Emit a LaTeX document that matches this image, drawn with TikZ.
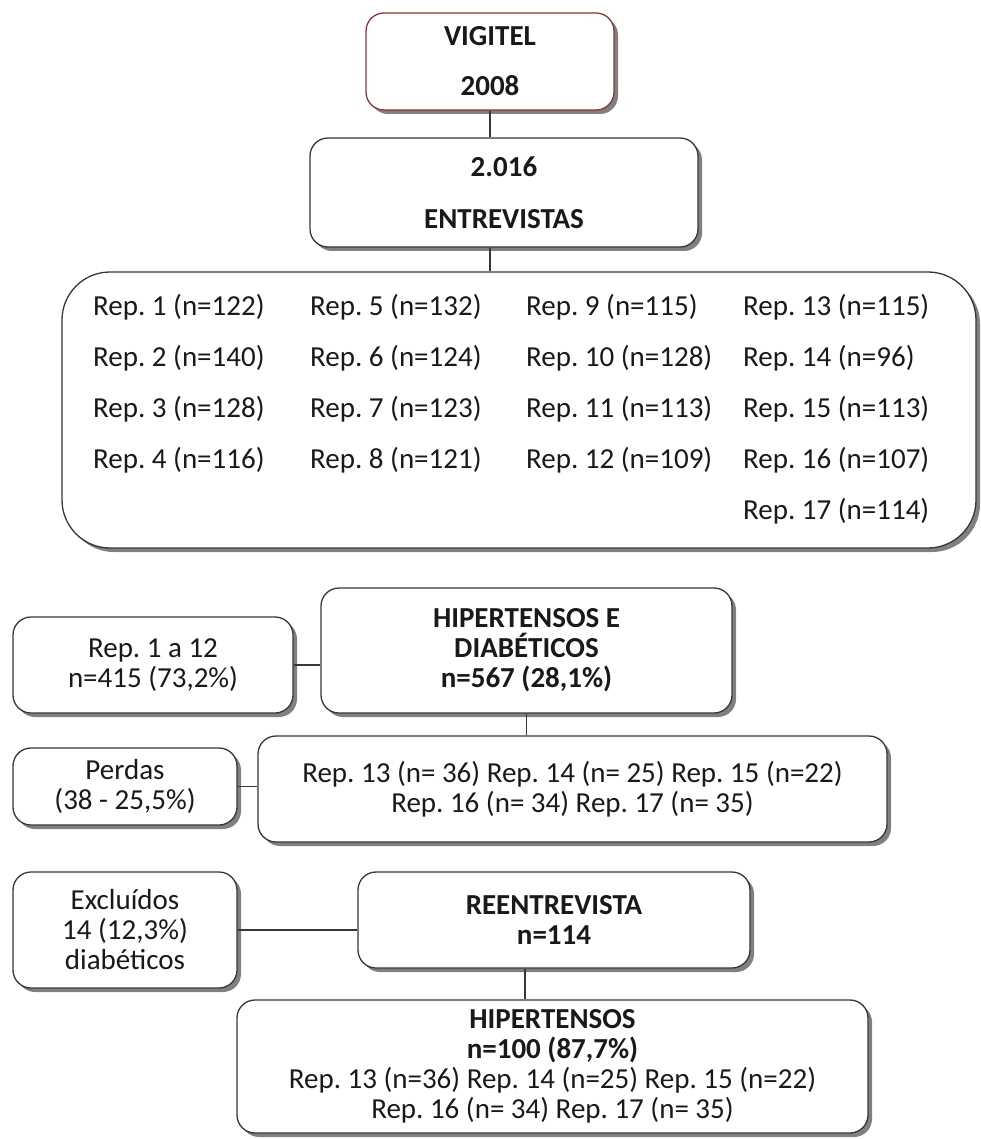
\documentclass[tikz,border=0pt]{standalone}
\usepackage{fontspec}
\setmainfont{Carlito}
\usetikzlibrary{shadows}
\definecolor{linegray}{RGB}{55,55,55}
\definecolor{vigred}{RGB}{135,55,55}
\tikzset{
  box/.style={draw=linegray,line width=1.3pt,rounded corners=18pt,fill=white,
    align=center,inner sep=0pt,
    drop shadow={shadow xshift=4pt,shadow yshift=-4pt,fill=black!50,opacity=1}},
  bigbox/.style={box,rounded corners=48pt},
  replabel/.style={anchor=west,inner sep=0pt},
  link/.style={draw=linegray,line width=1.3pt}
}
\newcommand\repcols{{93,310,526,743}}
\frenchspacing

\begin{document}
\begin{tikzpicture}[x=1pt,y=-1pt,
  every node/.style={font=\fontsize{29}{30}\selectfont,text=black!90}]
  \useasboundingbox (0,0) rectangle (980,1139);

  % top
  \node[box,draw=vigred,minimum width=248pt,minimum height=97pt] (vigitel)
    at (490,61.5) {\bfseries VIGITEL\\[20pt]\bfseries 2008};
  \node[box,minimum width=388pt,minimum height=109pt] (entrevistas)
    at (504,192.5) {\bfseries 2.016\\[22pt]\bfseries ENTREVISTAS};
  \node[bigbox,minimum width=914pt,minimum height=276pt] (reps) at (519,410) {};

  \foreach \num/\val [count=\i from 0] in {1/122,2/140,3/128,4/116,5/132,6/124,
      7/123,8/121,9/115,10/128,11/113,12/109,13/115,14/96,15/113,16/107,17/114} {
    \pgfmathtruncatemacro\col{min(int(\i/4),3)}
    \pgfmathtruncatemacro\row{\i-4*\col}
    \pgfmathsetmacro\cx{\repcols[\col]}
    \node[replabel] (rep\num) at (\cx,307+51*\row) {Rep. \num\ (n=\val)};
  }

  % middle
  \node[box,minimum width=411pt,minimum height=125pt] (hipdiab) at (526.5,650.5)
    {\bfseries HIPERTENSOS E\\\bfseries DIAB\'ETICOS\\\bfseries n=567 (28,1\%)};
  \node[box,minimum width=280pt,minimum height=96pt] (rep1a12) at (153,665)
    {Rep. 1 a 12\\n=415 (73,2\%)};
  \node[box,minimum width=629pt,minimum height=106pt] (rep13a17) at (572.5,789)
    {Rep. 13 (n= 36) Rep. 14 (n= 25) Rep. 15 (n=22)\\Rep. 16 (n= 34) Rep. 17 (n= 35)};
  \node[box,minimum width=224pt,minimum height=77pt] (perdas) at (125,786.5)
    {Perdas\\(38 - 25,5\%)};

  % bottom
  \node[box,minimum width=224pt,minimum height=116pt] (excluidos) at (125,930)
    {Exclu\'idos\\14 (12,3\%)\\diab\'eticos};
  \node[box,minimum width=392pt,minimum height=96pt] (reentrevista) at (554,920)
    {\bfseries REENTREVISTA\\\bfseries n=114};
  \node[box,minimum width=631pt,minimum height=133pt] (hipertensos) at (552.5,1066.5)
    {\bfseries HIPERTENSOS\\\bfseries n=100 (87,7\%)\\
     Rep. 13 (n=36) Rep. 14 (n=25) Rep. 15 (n=22)\\Rep. 16 (n= 34) Rep. 17 (n= 35)};

  % connectors
  \draw[link] (vigitel.south) -- (vigitel.south |- entrevistas.north);
  \draw[link] (vigitel.south |- entrevistas.south) -- (vigitel.south |- reps.north);
  \draw[link] (rep1a12.east) -- (rep1a12.east -| hipdiab.west);
  \draw[link] (hipdiab.south) -- (hipdiab.south |- rep13a17.north);
  \draw[link] (perdas.east) -- (perdas.east -| rep13a17.west);
  \draw[link] (excluidos.east) -- (excluidos.east -| reentrevista.west);
  \draw[link] ([xshift=-29pt]reentrevista.south)
    -- ([xshift=-29pt]reentrevista.south |- hipertensos.north);
\end{tikzpicture}
\end{document}
